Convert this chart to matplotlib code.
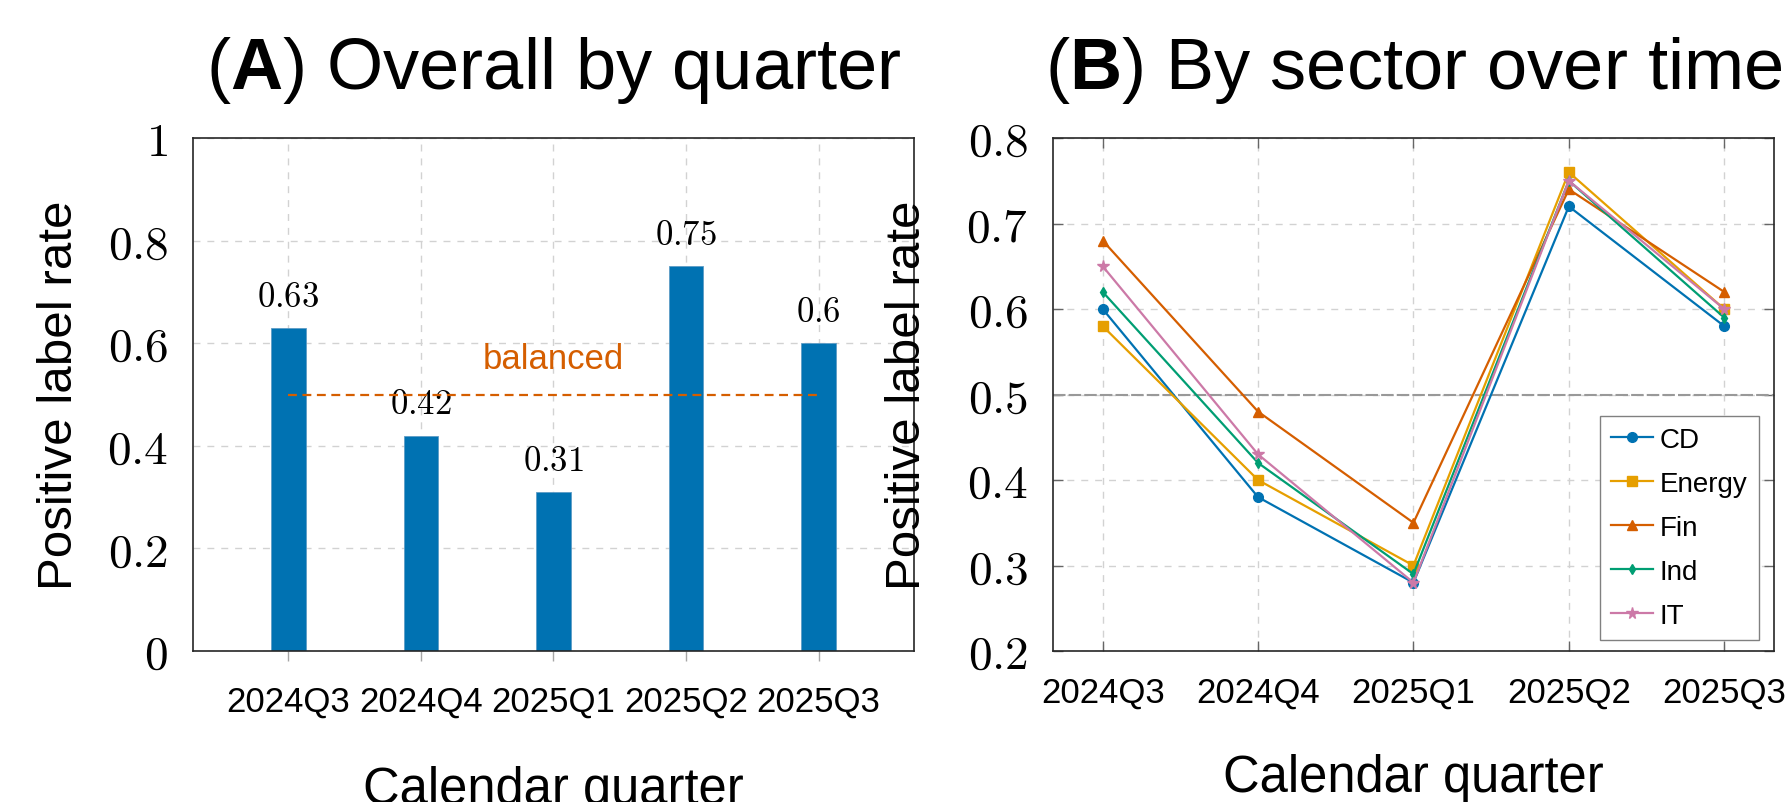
import numpy as np
import matplotlib
matplotlib.use("Agg")
import matplotlib.pyplot as plt

# -----------------------------
# data
# -----------------------------
quarters = ["2024Q3", "2024Q4", "2025Q1", "2025Q2", "2025Q3"]
overall_rate = [0.63, 0.42, 0.31, 0.75, 0.60]
balanced_level = 0.5

sectors = ["CD", "Energy", "Fin", "Ind", "IT"]
rate_cd = [0.60, 0.38, 0.28, 0.72, 0.58]
rate_energy = [0.58, 0.40, 0.30, 0.76, 0.60]
rate_fin = [0.68, 0.48, 0.35, 0.74, 0.62]
rate_ind = [0.62, 0.42, 0.29, 0.75, 0.59]
rate_it = [0.65, 0.43, 0.28, 0.75, 0.60]

left_yticks = [0, 0.2, 0.4, 0.6, 0.8, 1]
right_yticks = [0.2, 0.3, 0.4, 0.5, 0.6, 0.7, 0.8]

# -----------------------------
# style
# -----------------------------
plt.rcParams["font.family"] = ["Liberation Sans", "DejaVu Sans"]
plt.rcParams["mathtext.fontset"] = "cm"
plt.rcParams["mathtext.rm"] = "Liberation Sans"
plt.rcParams["mathtext.bf"] = "Liberation Sans:bold"
plt.rcParams["mathtext.it"] = "Liberation Sans:italic"

blue = "#0072B2"
orange = "#E69F00"
vermil = "#D55E00"
green = "#009E73"
pink = "#CC79A7"
grid_kw = dict(color="#d2d2d2", linestyle=(0, (5, 5)), linewidth=1.0)

fig = plt.figure(figsize=(17.92, 8.03), dpi=100)
axA = fig.add_axes([0.1077, 0.1880, 0.4023, 0.6389])
axB = fig.add_axes([0.5876, 0.1880, 0.4023, 0.6389])

def num(v):
    return f"${v:g}$"

# -----------------------------
# (A) Overall by quarter
# -----------------------------
x = np.arange(len(quarters))
axA.set_axisbelow(True)
axA.grid(True, **grid_kw)
axA.bar(x, overall_rate, width=0.26, color=blue, edgecolor="#5d9cc6", linewidth=0.6, zorder=2)
for xi, v in zip(x, overall_rate):
    axA.annotate(num(v), (xi, v), xytext=(0, 11), textcoords="offset points",
                 ha="center", va="bottom", fontsize=25)
axA.plot([x[0], x[-1]], [balanced_level, balanced_level], color=vermil,
         linestyle=(0, (4, 2.5)), linewidth=1.6, zorder=3)
axA.text(x[2], 0.57, "balanced", color=vermil, fontsize=25, ha="center", va="center")

axA.set_xlim(-0.72, 4.72)
axA.set_ylim(0, 1)
axA.set_xticks(x, quarters, fontsize=25)
axA.set_yticks(left_yticks, [num(v) for v in left_yticks], fontsize=34)
axA.tick_params(axis="x", direction="out", length=7, width=1, color="0.65", pad=17.5)
axA.tick_params(axis="y", length=0, pad=18)
axA.set_ylabel("Positive label rate", fontsize=35.5, labelpad=18)
axA.set_xlabel("Calendar quarter", fontsize=36.5, labelpad=34)
axA.set_title(r"($\mathbf{A}$) Overall by quarter", fontsize=52, pad=36,
              math_fontfamily="custom")

# -----------------------------
# (B) By sector over time
# -----------------------------
axB.set_axisbelow(True)
axB.grid(True, **grid_kw)
axB.axhline(balanced_level, color="0.6", linestyle=(0, (6, 1.5)), linewidth=1.5, zorder=1)
series = [
    (rate_cd, blue, "o", 7),
    (rate_energy, orange, "s", 6.5),
    (rate_fin, vermil, "^", 7),
    (rate_ind, green, "d", 5.5),
    (rate_it, pink, "*", 8.5),
]
for name, (vals, col, mk, ms) in zip(sectors, series):
    axB.plot(x, vals, color=col, marker=mk, markersize=ms, linewidth=1.6, label=name, zorder=3)

axB.set_xlim(-0.32, 4.32)
axB.set_ylim(0.2, 0.8)
axB.set_xticks(x, quarters, fontsize=25)
axB.set_yticks(right_yticks, [num(v) for v in right_yticks], fontsize=34)
axB.tick_params(direction="in", length=7, width=1, color="0.4", top=True, right=True)
axB.tick_params(axis="x", pad=17.5)
axB.tick_params(axis="y", pad=18)
axB.set_ylabel("Positive label rate", fontsize=35.5, labelpad=26)
axB.set_xlabel("Calendar quarter", fontsize=36.5, labelpad=32)
axB.set_title(r"($\mathbf{B}$) By sector over time", fontsize=52, pad=36,
              math_fontfamily="custom")

leg = axB.legend(loc="lower right", bbox_to_anchor=(0.979, 0.021), fontsize=20,
                 frameon=True, fancybox=False, framealpha=1, edgecolor="0.5",
                 borderpad=0.4, labelspacing=0.65, handlelength=1.5,
                 handletextpad=0.25, borderaxespad=0)
leg.get_frame().set_linewidth(1.0)

for ax in (axA, axB):
    for s in ax.spines.values():
        s.set_color("0.15")
        s.set_linewidth(1.2)

fig.savefig("out.png", dpi=100)
